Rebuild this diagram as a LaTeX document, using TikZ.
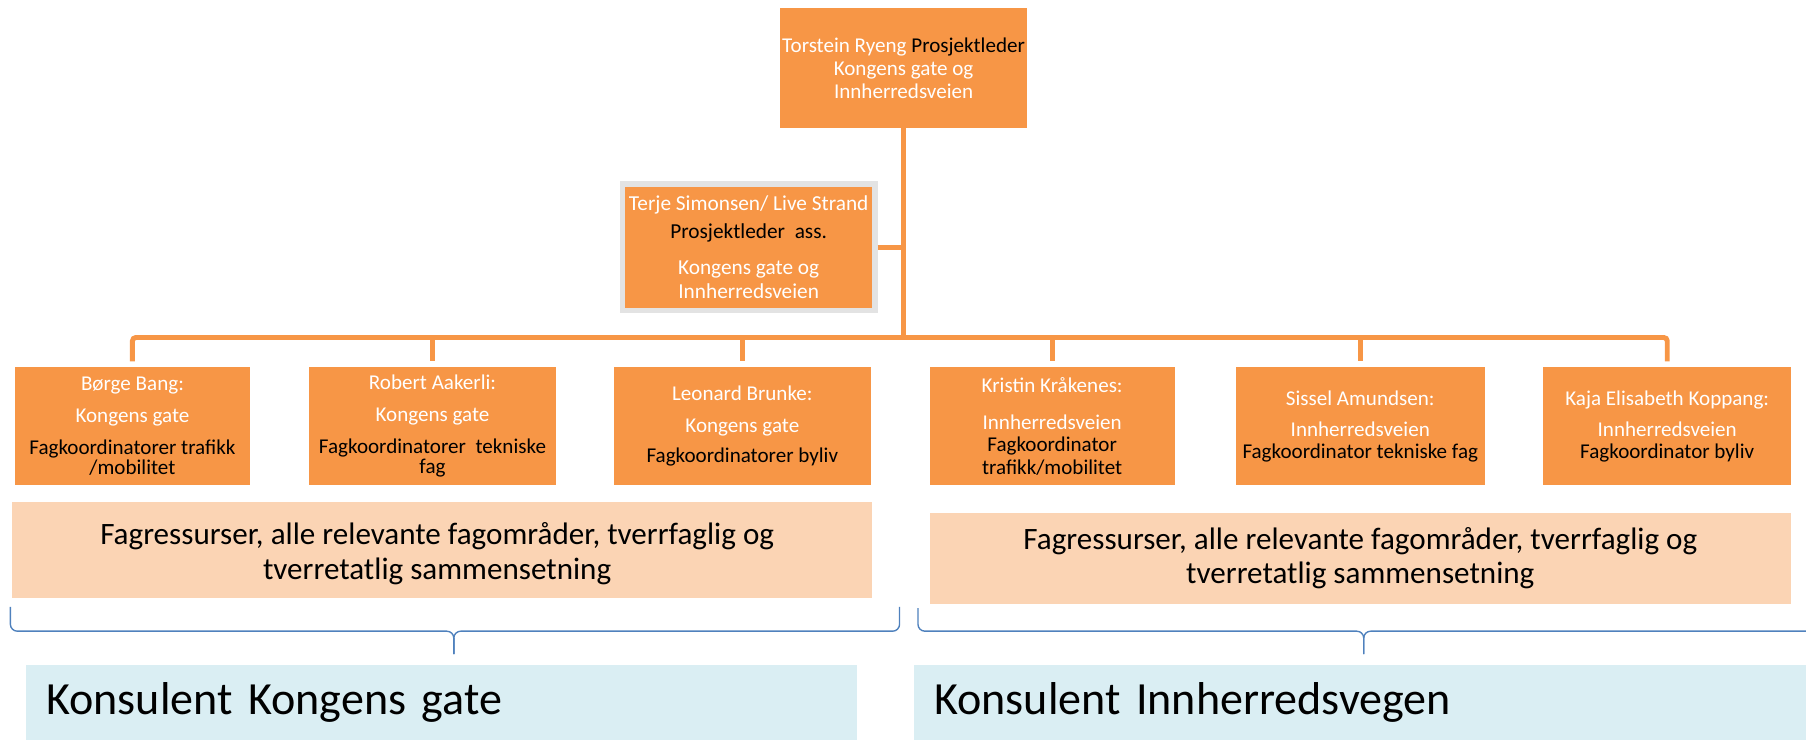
\documentclass[tikz,border=0pt]{standalone}
\usepackage{fontspec}
\setmainfont{Carlito}
\usetikzlibrary{calc}
\definecolor{org}{HTML}{F79646}
\definecolor{peach}{HTML}{FBD4B4}
\definecolor{lblue}{HTML}{DAEEF3}
\definecolor{brc}{HTML}{4F81BD}
\definecolor{gbord}{HTML}{E3E3E3}
\begin{document}
\begin{tikzpicture}[x=1pt,y=-1pt,
  obox/.style={fill=org, inner sep=0pt, align=center, text=white,
    minimum height=102pt, font=\fontsize{18.3}{17.5}\selectfont},
  conn/.style={draw=org, line width=4.3pt},
  pbox/.style={fill=peach, inner sep=0pt, align=center, text=black,
    font=\fontsize{27}{30}\selectfont},
  ptext/.style={inner sep=0pt, align=center, text=black,
    font=\fontsize{27}{30}\selectfont},
  kbox/.style={fill=lblue, anchor=north west, inner xsep=18pt, inner ysep=0pt,
    align=left, text=black, minimum height=65pt, font=\fontsize{40}{44}\selectfont},
  bracepath/.style={draw=brc, line width=1.2pt, rounded corners=6pt}]
\useasboundingbox (0,0) rectangle (1568,642);

% top
\node[obox, minimum width=215pt, minimum height=104pt, font=\fontsize{18.3}{20}\selectfont] (top) at (784.5,59)
  {Torstein Ryeng \textcolor{black}{Prosjektleder}\\Kongens gate og\\Innherredsveien};
% assistant
\node[obox, draw=gbord, line width=5pt, minimum width=219pt, minimum height=110pt,
  font=\fontsize{18.5}{20}\selectfont] (asst) at (650,214.5)
  {Terje Simonsen/ Live Strand\\[5pt]\textcolor{black}{Prosjektleder\ \ ass.}\\[11pt]Kongens gate og\\[1pt]Innherredsveien};

% six boxes
\node[obox, minimum width=204pt] (b1) at (115,370)
  {Børge Bang:\\[10pt]Kongens gate\\[10pt]\textcolor{black}{Fagkoordinatorer trafikk}\\\textcolor{black}{/mobilitet}};
\node[obox, minimum width=215pt] (b2) at (375.5,370)
  {Robert Aakerli:\\[10pt]Kongens gate\\[10pt]\textcolor{black}{Fagkoordinatorer\ \ tekniske}\\\textcolor{black}{fag}};
\node[obox, minimum width=223pt] (b3) at (644.5,370)
  {Leonard Brunke:\\[10pt]Kongens gate\\[9pt]\textcolor{black}{Fagkoordinatorer byliv}};
\node[obox, minimum width=213pt] (b4) at (913.5,370)
  {Kristin Kråkenes:\\[15pt]Innherredsveien\\[1.5pt]\textcolor{black}{Fagkoordinator}\\[2pt]\textcolor{black}{trafikk/mobilitet}};
\node[obox, minimum width=216pt] (b5) at (1181,370)
  {Sissel Amundsen:\\[9.5pt]Innherredsveien\\[1.5pt]\textcolor{black}{Fagkoordinator tekniske fag}};
\node[obox, minimum width=215pt] (b6) at (1447.5,370)
  {Kaja Elisabeth Koppang:\\[9.5pt]Innherredsveien\\[1.5pt]\textcolor{black}{Fagkoordinator byliv}};

% connectors
\coordinate (bar) at (0,293);
\draw[conn] (top.south) -- (top.south |- bar);
\draw[conn] (asst.east) -- (asst.east -| top.south);
\draw[conn, rounded corners=3pt] ($(b1.north)+(0,-5)$) |- (b6.north |- bar) -- ($(b6.north)+(0,-5)$);
\foreach \b in {b2,b3,b4,b5}
  \draw[conn] (\b.north |- bar) -- ($(\b.north)+(0,-5)$);

% peach boxes
\node[pbox, minimum width=747pt, minimum height=83pt] (p1) at (383.5,477.5) {};
\node[ptext] (p1t) at ($(p1.center)+(-4,3)$)
  {Fagressurser, alle relevante fagområder, tverrfaglig og\\tverretatlig sammensetning};
\node[pbox, minimum width=748pt, minimum height=79pt] (p2) at (1181,484.5) {};
\node[ptext] (p2t) at ($(p2.center)+(0,0)$)
  {Fagressurser, alle relevante fagområder, tverrfaglig og\\tverretatlig sammensetning};

% braces
\draw[bracepath] (9,527) |- (394,548) -- (394,568);
\draw[bracepath] (781,527) |- (394,548) -- (394,568);
\draw[bracepath] (797,528) |- (1184,548) -- (1184,568);
\draw[bracepath] (1568,548) -- (1184,548) -- (1184,568);

% consultant boxes
\node[kbox, text width=686pt] (k1) at (22,577) {Konsulent Kongens gate};
\node[kbox, text width=739pt] (k2) at (793,577) {Konsulent Innherredsvegen};
\end{tikzpicture}
\end{document}
